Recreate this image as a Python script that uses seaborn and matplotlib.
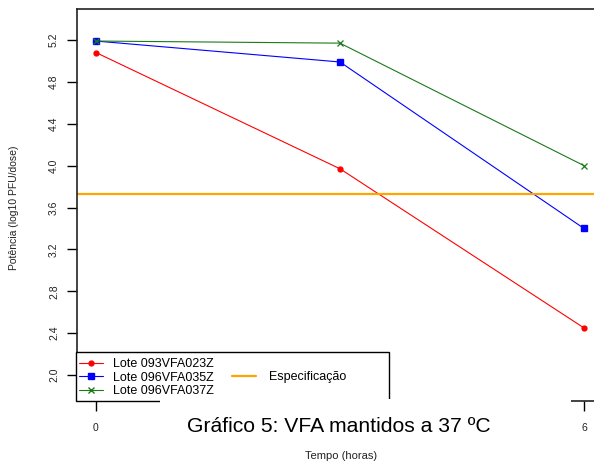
import matplotlib
matplotlib.use("Agg")
import matplotlib.pyplot as plt
from matplotlib.patches import Rectangle
from matplotlib.lines import Line2D
import seaborn as sns
import pandas as pd

# ---- data ----
tempo = [0, 3, 6]
lotes = ["Lote 093VFA023Z", "Lote 096VFA035Z", "Lote 096VFA037Z"]
pot_093 = [5.08, 3.97, 2.45]
pot_035 = [5.19, 4.99, 3.40]
pot_037 = [5.19, 5.17, 4.00]
especificacao = 3.73
spec_label = "Especificação"
xticks = [0, 6]
yticks = [2.0, 2.4, 2.8, 3.2, 3.6, 4.0, 4.4, 4.8, 5.2]
title = "Gráfico 5: VFA mantidos a 37 ºC"
xlabel = "Tempo (horas)"
ylabel = "Potência (log10 PFU/dose)"

df = pd.DataFrame({
    "tempo": tempo * 3,
    "potencia": pot_093 + pot_035 + pot_037,
    "lote": [lotes[0]] * 3 + [lotes[1]] * 3 + [lotes[2]] * 3,
})

colors = {lotes[0]: "#FF0000", lotes[1]: "#0000FF", lotes[2]: "#1A7A1A"}
markers = {lotes[0]: "o", lotes[1]: "s", lotes[2]: "x"}
msizes = {lotes[0]: 3.5, lotes[1]: 5, lotes[2]: 5}

sns.set_style("ticks")
plt.rcParams["font.family"] = ["Liberation Sans", "DejaVu Sans"]
plt.rcParams["text.color"] = "black"

W, H = 594, 467
fig = plt.figure(figsize=(W / 100, H / 100), dpi=100)
ax = fig.add_axes([77 / W, 1 - 401 / H, (W - 77) / W + 0.01, (401 - 9) / H])

sns.lineplot(data=df, x="tempo", y="potencia", hue="lote",
             hue_order=lotes, palette=colors, legend=False, ax=ax,
             linewidth=0.8)
for ln, lote in zip(ax.lines, lotes):
    c = colors[lote]
    ln.set_marker(markers[lote])
    ln.set_markeredgecolor(c)
    ln.set_markerfacecolor(c)
    ln.set_markersize(msizes[lote])
    ln.set_markeredgewidth(1.0 if lote != lotes[2] else 0.9)

ax.axhline(especificacao, color="#FFA500", lw=1.6)

px_x = 488 / 6.0
ax.set_xlim(-19 / px_x, (W + 6 - 96) / px_x)
px_y = 335 / 3.2
ax.set_ylim(2.0 - 26 / px_y, 5.2 + 31 / px_y)

ax.set_xticks(xticks)
ax.set_xticklabels([str(v) for v in xticks], fontsize=7.5)
ax.set_yticks(yticks)
ax.set_yticklabels([f"{v:.1f}" for v in yticks], fontsize=7.5, rotation=90, va="center")
ax.tick_params(axis="both", direction="out", length=7, width=1, color="black", labelcolor="#222222")
ax.tick_params(axis="y", pad=6)
ax.tick_params(axis="x", pad=9)
for s in ["left", "top", "bottom"]:
    ax.spines[s].set_color("#222222")
    ax.spines[s].set_linewidth(1.2)
ax.spines["right"].set_visible(False)
ax.set_xlabel("")
ax.set_ylabel("")

fig.text(341 / W, 1 - 456 / H, xlabel, fontsize=8, ha="center", va="center", color="#222222")
fig.text(14 / W, 1 - 208 / H, ylabel, fontsize=7.5, ha="center", va="center", rotation=90, color="#222222")

# legend box
fig.patches.append(Rectangle((76 / W, 1 - 401 / H), (389 - 76) / W, (401 - 352) / H,
                             transform=fig.transFigure, facecolor="white",
                             edgecolor="black", lw=1.0, zorder=3))
# title box (white) covering part of axis and legend border
fig.patches.append(Rectangle((160 / W, 1 - 445 / H), (571 - 160) / W, (445 - 399) / H,
                             transform=fig.transFigure, facecolor="white",
                             edgecolor="none", zorder=4))

handles = []
for lote in lotes:
    handles.append(Line2D([], [], color=colors[lote], marker=markers[lote], lw=0.8,
                          markersize=msizes[lote], markeredgecolor=colors[lote],
                          markerfacecolor=colors[lote]))
leg1 = fig.legend(handles, lotes, loc="upper left", bbox_to_anchor=(79 / W, 1 - 358 / H),
                  frameon=False, fontsize=9, handlelength=1.9, handletextpad=0.8,
                  labelspacing=0.14, borderpad=0, borderaxespad=0)
leg1.set_zorder(6)
h2 = Line2D([], [], color="#FFA500", lw=1.6)
leg2 = fig.legend([h2], [spec_label], loc="upper left", bbox_to_anchor=(232 / W, 1 - 371 / H),
                  frameon=False, fontsize=9, handlelength=1.9, handletextpad=1.1,
                  borderpad=0, borderaxespad=0)
leg2.set_zorder(6)

t = fig.text(339 / W, 1 - 426 / H, title, fontsize=15.2, ha="center", va="center",
             color="black", zorder=7)

fig.savefig("out.png", dpi=100)
